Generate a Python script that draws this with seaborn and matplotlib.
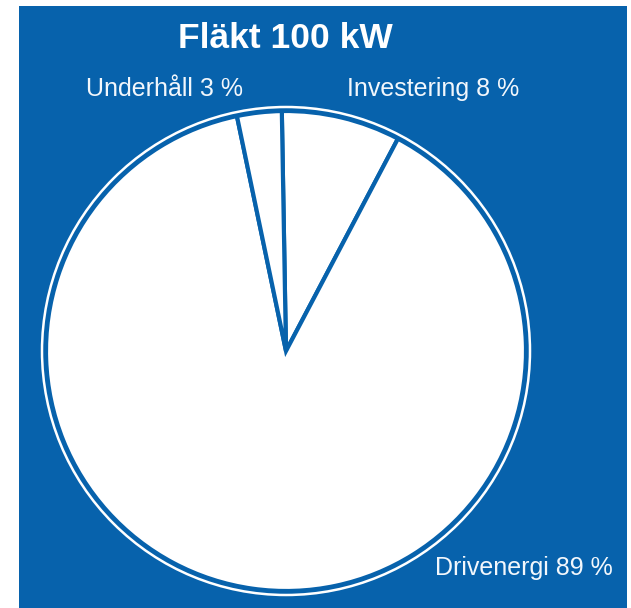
import matplotlib
matplotlib.use("Agg")
import matplotlib.pyplot as plt
from matplotlib.patches import Rectangle, Circle
import seaborn as sns

# Data
title = "Fläkt 100 kW"
categories = ["Investering", "Drivenergi", "Underhåll"]
shares = [8, 89, 3]

# Label placement (pixel coords, y from top) and colours
label_pos = {"Underhåll": (165, 96), "Investering": (433, 96), "Drivenergi": (524, 575)}
BLUE = "#0762AC"
W, H = 631, 608

sns.set_style("white")
plt.rcParams["font.family"] = ["Liberation Sans", "DejaVu Sans"]

fig = plt.figure(figsize=(W / 100, H / 100), dpi=100)
ax = fig.add_axes([0, 0, 1, 1])

# blue panel
ax.add_patch(Rectangle((19, 0), 627 - 19, H - 6, facecolor=BLUE, edgecolor="none", zorder=0))

cx, cy = 286, H - 351
wedges, _ = ax.pie(shares, colors=sns.color_palette(["white"] * 3), startangle=91,
                   counterclock=False, center=(cx, cy), radius=240,
                   wedgeprops=dict(edgecolor=BLUE, linewidth=3, joinstyle="miter"))
for w in wedges:
    w.set_zorder(2)

# thin outer ring
ax.add_patch(Circle((cx, cy), 244, facecolor="none", edgecolor="white", linewidth=1.8, zorder=3))

ax.text(285, H - 48, title, ha="center", va="baseline", color="white",
        fontsize=25.5, fontweight="bold")
for cat, val in zip(categories, shares):
    x, y = label_pos[cat]
    ax.text(x, H - y, f"{cat} {val} %", ha="center", va="baseline", color="#F2F7FC", fontsize=18)

ax.set_xlim(0, W)
ax.set_ylim(0, H)
ax.set_aspect("equal")
ax.axis("off")

fig.savefig("out.png", dpi=100, facecolor="white")
